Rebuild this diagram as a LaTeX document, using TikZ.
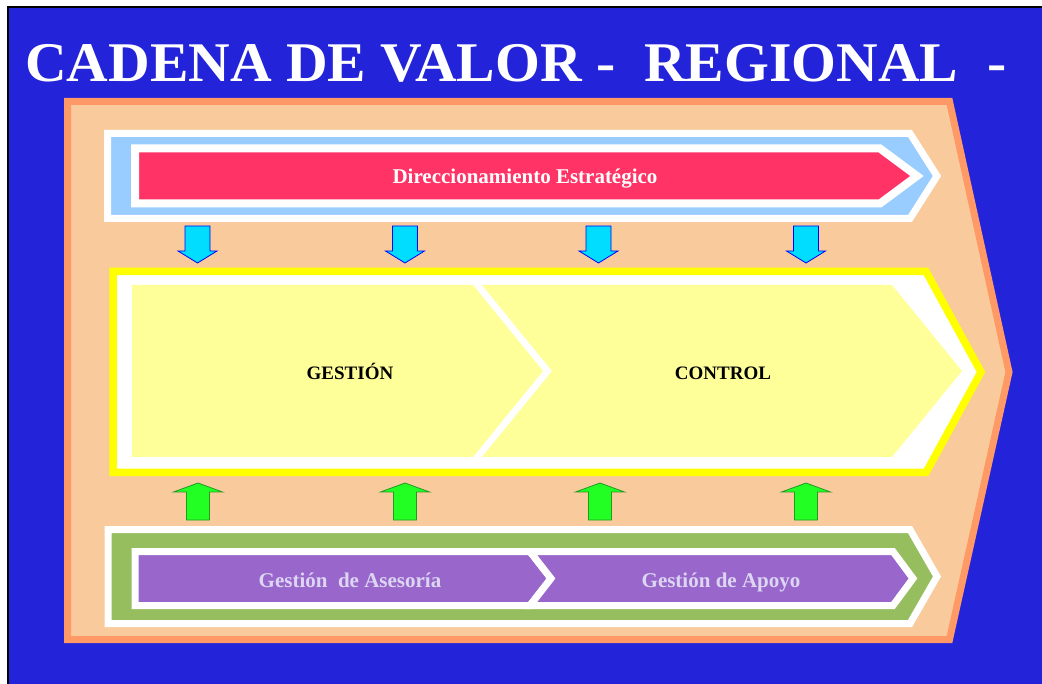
\documentclass[tikz,border=0pt]{standalone}
\usepackage{fontspec}
\setmainfont{Liberation Serif}
\definecolor{bgblue}{HTML}{2323DA}
\definecolor{peach}{HTML}{F9CB9C}
\definecolor{orangeb}{HTML}{FF9966}
\definecolor{lblue}{HTML}{99CCFF}
\definecolor{redf}{HTML}{FF3366}
\definecolor{yelb}{HTML}{FFFF00}
\definecolor{lyel}{HTML}{FFFF99}
\definecolor{greenb}{HTML}{96BE5F}
\definecolor{purp}{HTML}{9966CC}
\definecolor{cyanf}{HTML}{00DDFF}
\definecolor{greenf}{HTML}{22FF22}
\definecolor{greenline}{HTML}{229922}
\definecolor{lav}{HTML}{DCD6F2}
\tikzset{
  outerband/.style={draw=orangeb, line width=7pt, fill=peach},
  whiteband/.style={draw=white, line width=7pt},
  yelband/.style={draw=yelb, line width=7.5pt, fill=white},
  panel/.style={fill=lyel},
  lbl/.style={font=\fontsize{21}{21}\selectfont\bfseries, inner sep=0pt, anchor=base},
  blk/.style={font=\fontsize{19}{19}\selectfont\bfseries, inner sep=0pt, text=black, anchor=base},
  downarr/.pic={\draw[fill=cyanf, draw=blue, line width=0.8pt]
     (-12.5,0) -- (12.5,0) -- (12.5,25) -- (19.5,25) -- (0,37) -- (-19.5,25) -- (-12.5,25) -- cycle;},
  uparr/.pic={\draw[fill=greenf, draw=greenline, line width=0.8pt]
     (0,0) -- (24.5,9) -- (11.5,9) -- (11.5,37) -- (-11.5,37) -- (-11.5,9) -- (-24.5,9) -- cycle;}
}
\begin{document}
\begin{tikzpicture}[x=1pt,y=-1pt,line join=miter]
\useasboundingbox (0,0) rectangle (1042,684);
\fill[white] (0,0) rectangle (1042,684);
\fill[bgblue] (8,7) rectangle (1042,684);
\draw[black, line width=1.2pt] (8,684) -- (8,7) -- (1042,7);

\node[anchor=base west, inner sep=0pt, text=white, font=\fontsize{56}{56}\selectfont\bfseries] (title) at (25,82)
  {\scalebox{1.03}[1]{CADENA DE VALOR -~ REGIONAL~ -}};

% outer chevron
\draw[outerband] (67.5,101.5) -- (949.5,101.5) -- (1009,372) -- (949.5,639.5) -- (67.5,639.5) -- cycle;

% top band
\draw[whiteband, fill=lblue] (107.5,133.5) -- (910,133.5) -- (937,176) -- (910,218.5) -- (107.5,218.5) -- cycle;
\draw[draw=white, line width=8pt, fill=redf] (135,148.5) -- (880,148.5) -- (917,176) -- (880,203.5) -- (135,203.5) -- cycle;
\node[lbl, text=white] (dir) at (525,184) {Direccionamiento Estratégico};

% down arrows
\pic at (197.5,226) {downarr};
\pic at (405,226) {downarr};
\pic at (598.5,226) {downarr};
\pic at (806,226) {downarr};

% middle band
\draw[yelband] (113,271.5) -- (926,271.5) -- (981,372) -- (926,472.5) -- (113,472.5) -- cycle;
\fill[panel] (132,285) -- (473,285) -- (543,371) -- (473,457) -- (132,457) -- cycle;
\fill[panel] (482,285) -- (892,285) -- (962,371) -- (892,457) -- (482,457) -- (552,371) -- cycle;
\node[blk] (gest) at (350,379.5) {GESTIÓN};
\node[blk] (ctrl) at (723,379.5) {CONTROL};

% up arrows
\pic at (198,483) {uparr};
\pic at (405,483) {uparr};
\pic at (600,483) {uparr};
\pic at (806,483) {uparr};

% bottom band
\draw[whiteband, fill=greenb] (108,529.5) -- (910,529.5) -- (937,576.5) -- (910,623.5) -- (108,623.5) -- cycle;
\draw[whiteband, fill=purp] (135,551.5) -- (530,551.5) -- (551,578.5) -- (530,605.5) -- (135,605.5) -- cycle;
\draw[whiteband, fill=purp] (530,551.5) -- (893,551.5) -- (913,578.5) -- (893,605.5) -- (530,605.5) -- (551,578.5) -- cycle;
\node[lbl, text=lav] (ases) at (350,587) {Gestión~ de Asesoría};
\node[lbl, text=lav] (apoyo) at (721,587) {Gestión de Apoyo};
\end{tikzpicture}
\end{document}
